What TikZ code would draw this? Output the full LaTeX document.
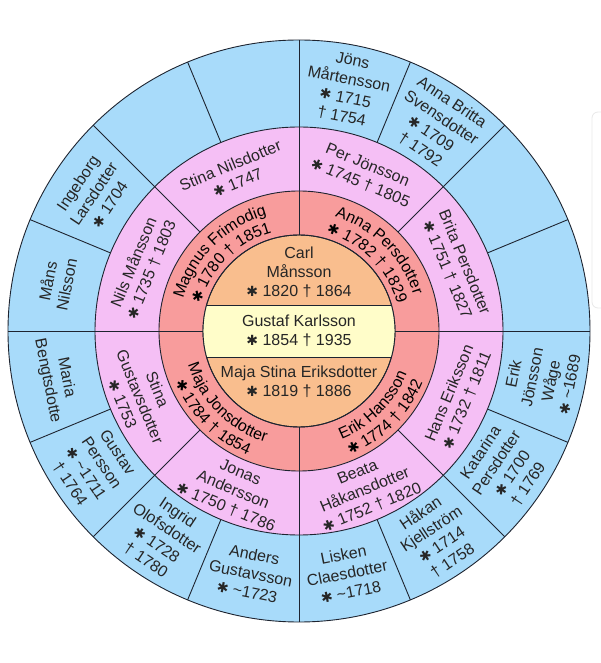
\documentclass[tikz,border=0pt]{standalone}
\usepackage{fontspec}
\setmainfont{Liberation Sans}
\newfontfamily\symf{DejaVu Sans}
\usetikzlibrary{decorations.text}

\definecolor{bluering}{HTML}{A8DBFA}
\definecolor{pinkring}{HTML}{F5BFF5}
\definecolor{redring}{HTML}{F89C9C}
\definecolor{orangedisc}{HTML}{F9BE8E}
\definecolor{yellowband}{HTML}{FFFDC9}
\definecolor{rimline}{HTML}{1E2430}

\newcommand{\born}{{\symf\fontsize{14}{14}\selectfont ✱}}
\newcommand{\died}{†}

\tikzset{
  rim/.style={draw=rimline, line width=0.9pt},
  who/.style={align=center, inner sep=0pt, text=black!85, font=\fontsize{16}{19}\selectfont},
  arcname/.style={decorate, decoration={text along path, text align=center, text={#1}}}
}

\begin{document}
\fontsize{16}{19}\selectfont
\begin{tikzpicture}
\useasboundingbox (-299pt,-332pt) rectangle (301pt,331pt);
\coordinate (O) at (0,0);
% scroll bar at the edge
\draw[gray!18, line width=0.8pt, rounded corners=6pt] (293pt,219pt) rectangle (312pt,23pt);
% rings
\draw[rim, fill=bluering] (O) circle (291pt);
\draw[rim, fill=pinkring] (O) circle (204pt);
\draw[rim, fill=redring] (O) circle (140pt);
% spokes
\draw[rim] (0:96pt) -- (0:291pt) (90:96pt) -- (90:291pt) (180:96pt) -- (180:291pt) (270:96pt) -- (270:291pt);
\draw[rim] (45:140pt) -- (45:291pt) (135:140pt) -- (135:291pt) (225:140pt) -- (225:291pt) (315:140pt) -- (315:291pt);
\draw[rim] (22.5:204pt) -- (22.5:291pt) (67.5:204pt) -- (67.5:291pt) (112.5:204pt) -- (112.5:291pt) (157.5:204pt) -- (157.5:291pt);
\draw[rim] (202.5:204pt) -- (202.5:291pt) (247.5:204pt) -- (247.5:291pt) (292.5:204pt) -- (292.5:291pt) (337.5:204pt) -- (337.5:291pt);
% centre
\draw[rim, fill=orangedisc] (O) circle (96pt);
\begin{scope}
\clip (O) circle (96pt);
\draw[rim, fill=yellowband] (-100pt,-26pt) rectangle (100pt,26pt);
\end{scope}
\draw[rim] (O) circle (96pt);

\node[who] (carl) at (0,59pt) {Carl\\Månsson\\\born{} 1820 \died{} 1864};
\node[who] (gustaf) at (0,0) {Gustaf Karlsson\\\born{} 1854 \died{} 1935};
\node[who] (majastina) at (0,-51pt) {Maja Stina Eriksdotter\\\born{} 1819 \died{} 1886};

% parents, along the arcs
\path[arcname={Magnus Frimodig}] (178:120pt) arc[start angle=178, end angle=92, radius=120pt];
\path[arcname={{\born} 1780 {\died} 1851}] (178:102pt) arc[start angle=178, end angle=92, radius=102pt];
\path[arcname={Anna Persdotter}] (88:120pt) arc[start angle=88, end angle=2, radius=120pt];
\path[arcname={{\born} 1782 {\died} 1829}] (88:102pt) arc[start angle=88, end angle=2, radius=102pt];
\path[arcname={Maja Jonsdotter}] (182:116pt) arc[start angle=182, end angle=268, radius=116pt];
\path[arcname={{\born} 1784 {\died} 1854}] (182:134pt) arc[start angle=182, end angle=268, radius=134pt];
\path[arcname={Erik Hansson}] (272:116pt) arc[start angle=272, end angle=358, radius=116pt];
\path[arcname={{\born} 1774 {\died} 1842}] (272:134pt) arc[start angle=272, end angle=358, radius=134pt];

% grandparents
\node[who, rotate=22.5] (stinan) at (112.5:170pt) {Stina Nilsdotter\\\born{} 1747};
\node[who, rotate=67.5] (nils) at (157.5:170pt) {Nils Månsson\\\born{} 1735 \died{} 1803};
\node[who, rotate=-22.5] (per) at (67.5:170pt) {Per Jönsson\\\born{} 1745 \died{} 1805};
\node[who, rotate=-67.5] (brita) at (22.5:170pt) {Brita Persdotter\\\born{} 1751 \died{} 1827};
\node[who, rotate=67.5] (hans) at (337.5:172pt) {Hans Eriksson\\\born{} 1732 \died{} 1811};
\node[who, rotate=22.5] (beata) at (292.5:172pt) {Beata\\Håkansdotter\\\born{} 1752 \died{} 1820};
\node[who, rotate=-22.5] (jonas) at (247.5:172pt) {Jonas\\Andersson\\\born{} 1750 \died{} 1786};
\node[who, rotate=-67.5] (stinag) at (202.5:172pt) {Stina\\Gustavsdotter\\\born{} 1753};

% great-grandparents
\node[who, rotate=-33.75] (annabritta) at (56.25:247pt) {Anna Britta\\Svensdotter\\\born{} 1709\\\died{} 1792};
\node[who, rotate=-11.25] (jons) at (78.75:247pt) {Jöns\\Mårtensson\\\born{} 1715\\\died{} 1754};
\node[who, rotate=56.25] (ingeborg) at (146.25:247pt) {Ingeborg\\Larsdotter\\\born{} 1704};
\node[who, rotate=78.75] (mans) at (168.75:247pt) {Måns\\Nilsson};
\node[who, rotate=-78.75] (maria) at (191.25:247pt) {Maria\\Bengtsdotte};
\node[who, rotate=-56.25] (gustav) at (213.75:247pt) {Gustav\\Persson\\\born{} \textasciitilde1711\\\died{} 1764};
\node[who, rotate=-33.75] (ingrid) at (236.25:247pt) {Ingrid\\Olofsdotter\\\born{} 1728\\\died{} 1780};
\node[who, rotate=-11.25] (anders) at (258.75:247pt) {Anders\\Gustavsson\\\born{} \textasciitilde1723};
\node[who, rotate=11.25] (lisken) at (281.25:247pt) {Lisken\\Claesdotter\\\born{} \textasciitilde1718};
\node[who, rotate=33.75] (hakan) at (303.75:247pt) {Håkan\\Kjellström\\\born{} 1714\\\died{} 1758};
\node[who, rotate=56.25] (katarina) at (326.25:247pt) {Katarina\\Persdotter\\\born{} 1700\\\died{} 1769};
\node[who, rotate=78.75] (erikw) at (348.75:247pt) {Erik\\Jönsson\\Wåge\\\born{} \textasciitilde1689};
\end{tikzpicture}
\end{document}
